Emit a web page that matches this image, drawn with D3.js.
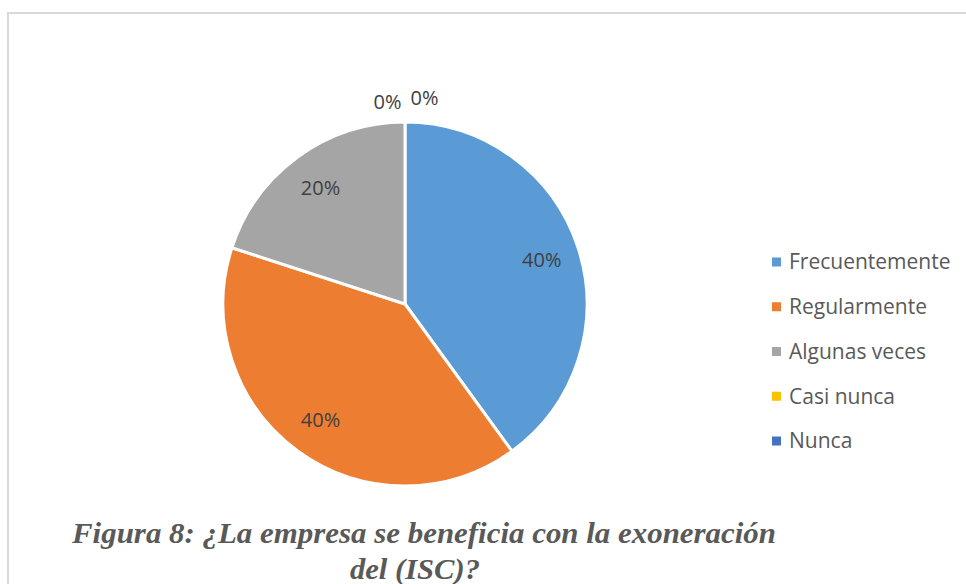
<!DOCTYPE html>
<html>
<head>
<meta charset="utf-8">
<script src="https://cdn.jsdelivr.net/npm/d3@7"></script>
<style>
  body { margin: 0; background: #fff; }
  svg { display: block; }
</style>
</head>
<body>
<div id="chart"></div>
<script>
// data
var categories = ["Frecuentemente", "Regularmente", "Algunas veces", "Casi nunca", "Nunca"];
var values = [40, 40, 20, 0, 0];
var colors = ["#5b9bd5", "#ed7d31", "#a5a5a5", "#ffc000", "#4472c4"];
var captionLines = ["Figura 8: ¿La empresa se beneficia con la exoneración", "del (ISC)?"];

var width = 966, height = 584;
var cx = 405, cy = 304, radius = 182;

var svg = d3.select("#chart").append("svg")
    .attr("width", width)
    .attr("height", height);

// chart frame
svg.append("rect")
    .attr("x", 8).attr("y", 13)
    .attr("width", 980).attr("height", 600)
    .attr("fill", "none")
    .attr("stroke", "#d9d9d9")
    .attr("stroke-width", 2);

var color = d3.scaleOrdinal().domain(categories).range(colors);

var pie = d3.pie().sort(null).value(function(d) { return d.value; });
var data = categories.map(function(c, i) { return {name: c, value: values[i]}; });
var arcs = pie(data);

var arc = d3.arc().innerRadius(0).outerRadius(radius);
var labelArc = d3.arc().innerRadius(radius * 0.79).outerRadius(radius * 0.79);

var g = svg.append("g").attr("transform", "translate(" + cx + "," + cy + ")");

g.selectAll("path")
    .data(arcs.filter(function(d) { return d.value > 0; }))
    .enter().append("path")
    .attr("d", arc)
    .attr("fill", function(d) { return color(d.data.name); })
    .attr("stroke", "#fff")
    .attr("stroke-width", 3)
    .attr("stroke-linejoin", "round");

var total = d3.sum(values);
var fmt = function(v) { return Math.round(v / total * 100) + "%"; };

// labels inside slices
g.selectAll("text.in")
    .data(arcs.filter(function(d) { return d.value > 0; }))
    .enter().append("text")
    .attr("class", "in")
    .attr("transform", function(d) { return "translate(" + labelArc.centroid(d) + ")"; })
    .attr("text-anchor", "middle")
    .attr("dy", "0.35em")
    .style("font-family", "'Open Sans', sans-serif")
    .style("font-size", "20px")
    .style("fill", "#404040")
    .text(function(d) { return fmt(d.data.value); });

// zero slices sit at the top, labels go outside
var zeros = arcs.filter(function(d) { return d.value === 0; });
g.selectAll("text.out")
    .data(zeros)
    .enter().append("text")
    .attr("class", "out")
    .attr("x", function(d, i) { return (i - (zeros.length - 1) / 2) * 37 + 1; })
    .attr("y", function(d, i) { return -radius - 15 - (i === 0 ? -2 : 2); })
    .attr("text-anchor", "middle")
    .style("font-family", "'Open Sans', sans-serif")
    .style("font-size", "20px")
    .style("fill", "#404040")
    .text(function(d) { return fmt(d.data.value); });

// legend
var legendY = d3.scalePoint().domain(categories).range([262, 441]);
var legend = svg.selectAll("g.legend")
    .data(categories)
    .enter().append("g")
    .attr("class", "legend")
    .attr("transform", function(d) { return "translate(772," + legendY(d) + ")"; });

legend.append("rect")
    .attr("x", 0).attr("y", -4.5)
    .attr("width", 9).attr("height", 9)
    .attr("fill", function(d) { return color(d); });

legend.append("text")
    .attr("x", 17)
    .attr("dy", "0.35em")
    .style("font-family", "'Open Sans', sans-serif")
    .style("font-size", "21px")
    .style("fill", "#595959")
    .text(function(d) { return d; });

// caption
svg.selectAll("text.caption")
    .data(captionLines)
    .enter().append("text")
    .attr("class", "caption")
    .attr("x", function(d, i) { return i === 0 ? 424 : 415; })
    .attr("y", function(d, i) { return 543 + i * 36; })
    .attr("text-anchor", "middle")
    .style("font-family", "'Liberation Serif', 'Times New Roman', serif")
    .style("font-size", "30px")
    .style("font-weight", "bold")
    .style("font-style", "italic")
    .style("fill", "#595959")
    .attr("textLength", function(d, i) { return i === 0 ? 704 : 130; })
    .attr("lengthAdjust", "spacingAndGlyphs")
    .text(function(d) { return d; });
</script>
</body>
</html>
